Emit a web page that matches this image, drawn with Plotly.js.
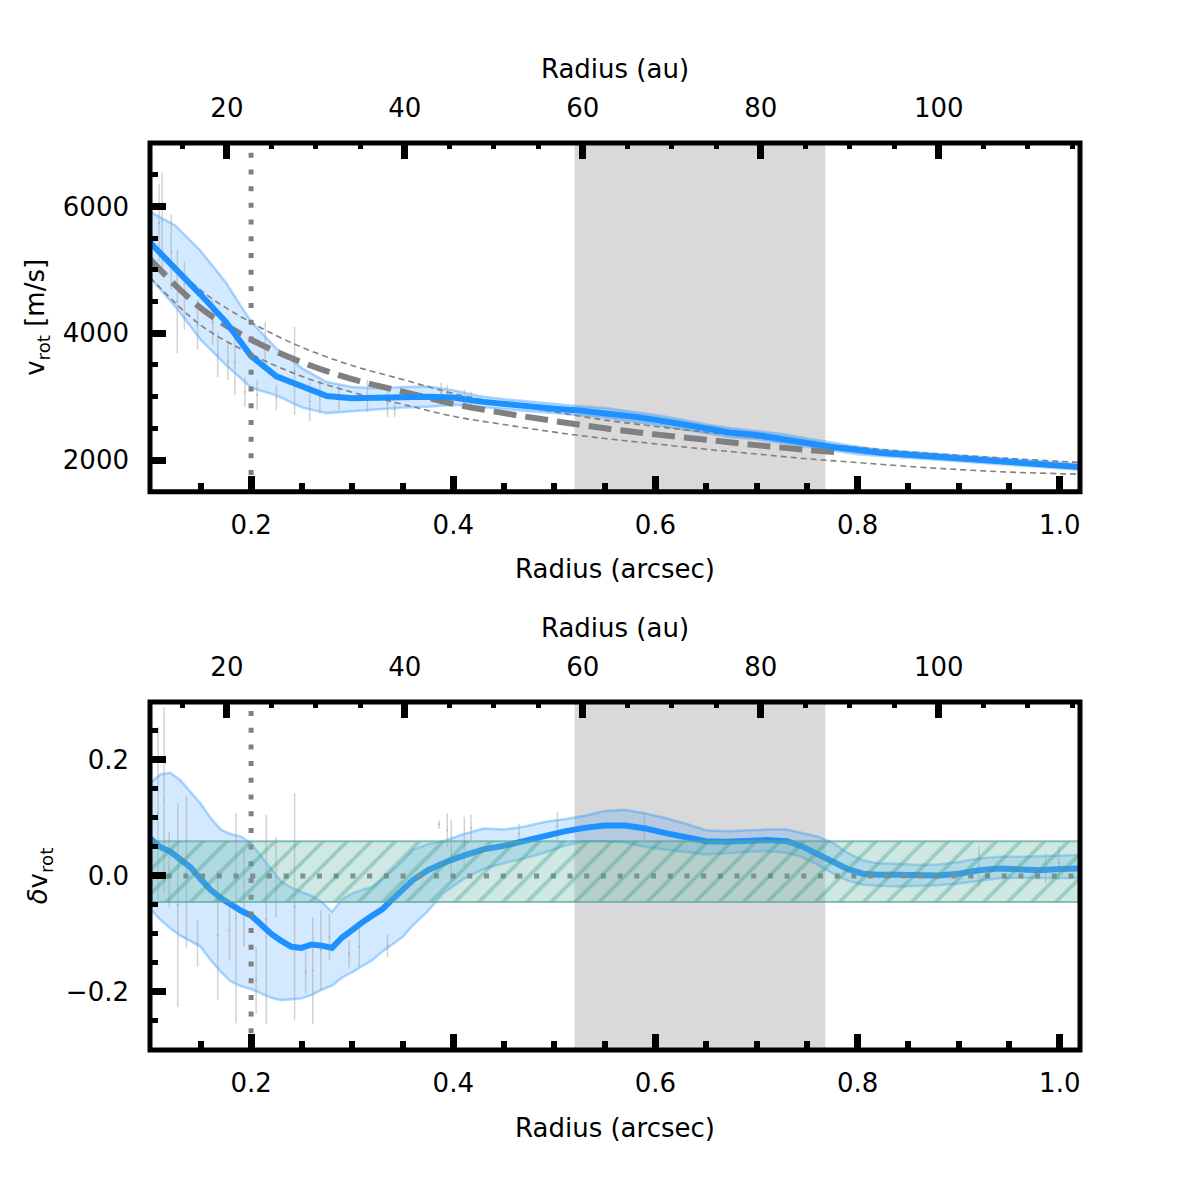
<!DOCTYPE html>
<html>
<head>
<meta charset="utf-8">
<script src="https://cdn.plot.ly/plotly-3.0.1.min.js"></script>
<style>
  html, body { margin: 0; padding: 0; background: #ffffff; }
  #chart { width: 1200px; height: 1200px; }
</style>
</head>
<body>
<div id="chart"></div>
<script>
// ---- constants -------------------------------------------------------
const DIST_PC = 113.6;               // arcsec -> au conversion
const R_RANGE = [0.1, 1.02];         // radius range (arcsec)
const V_RANGE = [1500, 7000];        // rotation velocity range (m/s)
const DV_RANGE = [-0.3, 0.3];        // relative deviation range
const INNER_RING = 0.2;              // dotted marker (arcsec)
const GAP = [0.52, 0.768];           // shaded gap (arcsec)
const DV_BAND = [-0.045, 0.06];      // hatched scatter band

// ---- rotation curve (top panel) -------------------------------------
const radius = [0.100,0.125,0.150,0.175,0.200,0.225,0.250,0.275,0.300,0.325,0.350,0.375,0.400,0.425,0.450,0.475,0.500,0.525,0.550,0.575,0.600,0.625,0.650,0.675,0.700,0.725,0.750,0.775,0.800,0.825,0.850,0.875,0.900,0.925,0.950,0.975,1.000,1.020];
const vrot   = [5430,5030,4610,4180,3640,3320,3170,3010,2975,2975,2990,3000,2985,2925,2880,2845,2810,2780,2745,2690,2635,2565,2490,2430,2395,2340,2270,2205,2150,2110,2085,2055,2025,1995,1965,1935,1910,1890];
const vrotHi = [5920,5700,5300,4800,4180,3760,3450,3230,3150,3130,3150,3160,3100,3010,2960,2920,2880,2850,2820,2770,2710,2640,2560,2500,2460,2410,2340,2270,2210,2160,2130,2100,2070,2040,2010,1980,1955,1935];
const vrotLo = [4880,4420,3900,3500,3140,3020,2830,2740,2770,2800,2830,2840,2870,2840,2800,2770,2740,2710,2670,2610,2560,2490,2420,2360,2330,2270,2200,2140,2090,2060,2040,2010,1980,1950,1920,1890,1865,1845];

// model curves
const rModel  = [0.10,0.15,0.20,0.25,0.30,0.35,0.40,0.45,0.50,0.55,0.60,0.65,0.70,0.75,0.80,0.85,0.90,0.95,1.00,1.02];
const vModelHi = [5480,4680,4170,3780,3490,3270,3050,2890,2760,2630,2530,2440,2350,2270,2200,2130,2075,2025,1980,1965];
const vModelLo = [4880,4130,3670,3320,3070,2880,2690,2560,2440,2340,2255,2170,2095,2020,1960,1900,1850,1810,1785,1775];
const rModelMid = [0.10,0.15,0.20,0.25,0.30,0.35,0.40,0.45,0.50,0.55,0.60,0.65,0.70,0.75,0.785];
const vModelMid = [5170,4400,3900,3545,3275,3080,2885,2740,2615,2500,2405,2320,2235,2160,2115];

// individual measurements
const rPts = [0.109,0.112,0.121,0.127,0.134,0.147,0.162,0.167,0.177,0.184,0.194,0.206,0.214,0.225,0.243,0.258,0.268,0.287,0.315,0.335,0.342,0.388,0.394,0.411,0.418];
const vPts = [5737,5768,5279,4504,4591,4133,4173,3659,3556,3541,3074,3027,3801,2987,3406,2924,3003,2987,3011,2893,2798,3059,3059,3003,2972];
const vErr = [608,766,592,814,537,395,356,348,292,514,237,237,379,198,695,308,261,198,253,213,119,158,119,103,103];

// ---- deviation profile (bottom panel) -------------------------------
const rDev  = [0.100,0.110,0.120,0.130,0.140,0.150,0.160,0.170,0.180,0.190,0.200,0.210,0.220,0.230,0.240,0.250,0.260,0.270,0.280,0.290,0.300,0.310,0.320,0.330,0.340,0.350,0.360,0.375,0.390,0.410,0.430,0.450,0.470,0.490,0.510,0.530,0.550,0.570,0.590,0.610,0.630,0.650,0.670,0.690,0.710,0.730,0.745,0.760,0.775,0.790,0.805,0.820,0.840,0.860,0.880,0.900,0.920,0.940,0.960,0.980,1.000,1.020];
const dv    = [0.065,0.050,0.042,0.028,0.015,-0.005,-0.024,-0.038,-0.050,-0.060,-0.068,-0.085,-0.100,-0.112,-0.122,-0.124,-0.118,-0.120,-0.124,-0.106,-0.092,-0.080,-0.068,-0.057,-0.040,-0.024,-0.007,0.010,0.022,0.035,0.046,0.052,0.060,0.070,0.077,0.083,0.087,0.087,0.082,0.074,0.066,0.060,0.059,0.061,0.062,0.060,0.051,0.038,0.024,0.012,0.004,0.002,0.002,0.002,0.001,0.004,0.010,0.013,0.012,0.010,0.012,0.013];
const dvLo  = [-0.056,-0.075,-0.090,-0.103,-0.112,-0.122,-0.145,-0.165,-0.182,-0.190,-0.195,-0.203,-0.210,-0.214,-0.213,-0.211,-0.205,-0.196,-0.189,-0.175,-0.166,-0.155,-0.145,-0.130,-0.118,-0.105,-0.085,-0.060,-0.030,-0.005,0.012,0.022,0.030,0.040,0.052,0.060,0.060,0.058,0.050,0.046,0.041,0.037,0.039,0.042,0.043,0.040,0.033,0.020,0.005,-0.008,-0.015,-0.017,-0.018,-0.017,-0.016,-0.013,-0.008,-0.004,-0.003,-0.004,-0.004,-0.003];
const dvHi  = [0.160,0.175,0.178,0.165,0.145,0.125,0.100,0.080,0.072,0.068,0.056,0.035,0.012,-0.010,-0.020,-0.028,-0.034,-0.045,-0.062,-0.040,-0.030,-0.024,-0.019,-0.005,0.010,0.025,0.045,0.055,0.060,0.072,0.082,0.080,0.085,0.093,0.098,0.104,0.112,0.114,0.108,0.100,0.090,0.079,0.077,0.079,0.080,0.080,0.074,0.068,0.058,0.040,0.027,0.022,0.021,0.019,0.020,0.024,0.030,0.033,0.033,0.034,0.036,0.036];

const rDevPts = [0.108,0.114,0.119,0.1275,0.136,0.147,0.167,0.1786,0.185,0.193,0.205,0.215,0.2248,0.243,0.254,0.261,0.269,0.2775,0.297,0.307,0.335,0.386,0.394,0.398,0.411,0.4176,0.465,0.503,0.589,0.92,0.986,0.999];
const dvPts   = [0.108,0.131,0.011,-0.050,0.007,-0.117,-0.102,-0.094,-0.073,-0.039,-0.180,-0.075,-0.002,-0.053,-0.166,-0.163,-0.128,-0.105,-0.134,-0.122,-0.120,0.089,0.079,0.045,0.059,0.083,0.073,0.086,0.086,0.016,0.013,0.022];
const dvErr   = [0.149,0.160,0.065,0.176,0.130,0.040,0.112,0.052,0.181,0.083,0.058,0.180,0.069,0.196,0.037,0.092,0.069,0.040,0.023,0.035,0.020,0.007,0.029,0.052,0.043,0.022,0.017,0.024,0.024,0.035,0.026,0.029];

// ---- styling ---------------------------------------------------------
const BLUE = '#1e90ff';
const BAND_FILL = 'rgba(30,144,255,0.2)';
const BAND_EDGE = 'rgba(30,144,255,0.35)';
const GREY = '#808080';
const DOT = '5px,11.7px';
const FONT = { family: 'DejaVu Sans', size: 26, color: '#000000' };

const au = r => r * DIST_PC;

function panelTraces(xa, ya, list) {
  return list.map(t => Object.assign({ xaxis: xa, yaxis: ya, hoverinfo: 'skip', showlegend: false }, t));
}

const velocityTraces = panelTraces('x', 'y', [
  { x: radius, y: vrotLo, mode: 'lines', line: { color: BAND_EDGE, width: 2.5 } },
  { x: radius, y: vrotHi, mode: 'lines', fill: 'tonexty', fillcolor: BAND_FILL, line: { color: BAND_EDGE, width: 2.5 } },
  { x: rPts, y: vPts, mode: 'markers', marker: { size: 2, color: 'rgba(150,150,150,0.5)' },
    error_y: { type: 'data', array: vErr, color: 'rgba(165,165,165,0.5)', thickness: 1.5, width: 0 } },
  { x: rModel, y: vModelHi, mode: 'lines', line: { color: GREY, width: 1.6, dash: '6px,4px', shape: 'spline' } },
  { x: rModel, y: vModelLo, mode: 'lines', line: { color: GREY, width: 1.6, dash: '6px,4px', shape: 'spline' } },
  { x: rModelMid, y: vModelMid, mode: 'lines', line: { color: GREY, width: 6, dash: '23px,9px', shape: 'spline' } },
  { x: radius, y: vrot, mode: 'lines', line: { color: BLUE, width: 6 } },
  { x: [INNER_RING, INNER_RING], y: V_RANGE, mode: 'lines', line: { color: GREY, width: 5, dash: DOT } },
  { x: R_RANGE.map(au), y: [null, null], xaxis: 'x2', mode: 'lines' }
]);

const deviationTraces = panelTraces('x3', 'y2', [
  { x: rDev, y: dvLo, mode: 'lines', line: { color: BAND_EDGE, width: 2.5 } },
  { x: rDev, y: dvHi, mode: 'lines', fill: 'tonexty', fillcolor: BAND_FILL, line: { color: BAND_EDGE, width: 2.5 } },
  { x: rDevPts, y: dvPts, mode: 'markers', marker: { size: 2, color: 'rgba(150,150,150,0.5)' },
    error_y: { type: 'data', array: dvErr, color: 'rgba(165,165,165,0.5)', thickness: 1.5, width: 0 } },
  { x: rDev, y: dv, mode: 'lines', line: { color: BLUE, width: 6 } },
  { x: R_RANGE, y: [0, 0], mode: 'lines', line: { color: GREY, width: 5, dash: DOT } },
  { x: [INNER_RING, INNER_RING], y: DV_RANGE, mode: 'lines', line: { color: GREY, width: 5, dash: DOT } },
  { x: [R_RANGE[0], R_RANGE[1], R_RANGE[1], R_RANGE[0], R_RANGE[0]],
    y: [DV_BAND[0], DV_BAND[0], DV_BAND[1], DV_BAND[1], DV_BAND[0]],
    mode: 'lines', fill: 'toself', fillcolor: 'rgba(110,185,170,0.33)',
    fillpattern: { shape: '/', size: 17, solidity: 0.22, bgcolor: 'rgba(110,185,170,0.33)', fgcolor: 'rgba(55,150,135,0.7)', fillmode: 'overlay' },
    line: { color: 'rgba(80,165,150,0.65)', width: 2 } },
  { x: R_RANGE.map(au), y: [null, null], xaxis: 'x4', mode: 'lines' }
]);

const tickBase = {
  ticks: 'inside', ticklen: 16, tickwidth: 7, tickcolor: '#000',
  showgrid: false, zeroline: false, showline: false,
  tickfont: FONT, fixedrange: true
};
const minorX = { ticks: 'inside', ticklen: 9, tickwidth: 6, tickcolor: '#000', showgrid: false };
const minorTop = { ticks: 'inside', ticklen: 6, tickwidth: 5, tickcolor: '#000', showgrid: false };
const minorY = { ticks: 'inside', ticklen: 8, tickwidth: 5, tickcolor: '#000', showgrid: false };

function arcsecAxis(anchor) {
  return Object.assign({}, tickBase, {
    anchor, range: R_RANGE, tick0: 0, dtick: 0.2, tickformat: '.1f', ticklabelstandoff: 15,
    minor: Object.assign({ tick0: 0, dtick: 0.05 }, minorX),
    title: { text: 'Radius (arcsec)', font: FONT, standoff: 21 }
  });
}
function auAxis(over, anchor) {
  return Object.assign({}, tickBase, {
    overlaying: over, side: 'top', anchor, range: R_RANGE.map(au), tick0: 0, dtick: 20, ticklabelstandoff: 20,
    minor: Object.assign({ tick0: 0, dtick: 5 }, minorTop),
    title: { text: 'Radius (au)', font: FONT, standoff: 6 }
  });
}

function frame(xa, ya) {
  return { type: 'rect', xref: xa + ' domain', yref: ya + ' domain', x0: 0, x1: 1, y0: 0, y1: 1,
    line: { color: '#000', width: 5 }, fillcolor: 'rgba(0,0,0,0)', layer: 'above' };
}
function gapRect(xa, ya) {
  return { type: 'rect', xref: xa, yref: ya + ' domain', x0: GAP[0], x1: GAP[1], y0: 0, y1: 1,
    line: { width: 0 }, fillcolor: '#d9d9d9', layer: 'below' };
}

const layout = {
  width: 1200, height: 1200,
  margin: { l: 150, r: 120, t: 143, b: 150 },
  paper_bgcolor: '#ffffff', plot_bgcolor: '#ffffff',
  font: FONT, showlegend: false,
  xaxis: Object.assign(arcsecAxis('y'), { domain: [0, 1] }),
  xaxis2: auAxis('x', 'y'),
  yaxis: Object.assign({}, tickBase, {
    domain: [0.6155, 1], anchor: 'x', range: V_RANGE, tick0: 0, dtick: 2000, ticklabelstandoff: 20,
    minor: Object.assign({ tick0: 0, dtick: 500 }, minorY),
    title: { text: 'v<sub>rot</sub> [m/s]', font: FONT, standoff: 10 }
  }),
  xaxis3: Object.assign(arcsecAxis('y2'), { domain: [0, 1] }),
  xaxis4: auAxis('x3', 'y2'),
  yaxis2: Object.assign({}, tickBase, {
    domain: [0, 0.3837], anchor: 'x3', range: DV_RANGE, tick0: 0, dtick: 0.2, tickformat: '.1f', ticklabelstandoff: 20,
    minor: Object.assign({ tick0: 0, dtick: 0.05 }, minorY),
    title: { text: '<i>δ</i>v<sub>rot</sub>', font: FONT, standoff: 10 }
  }),
  shapes: [gapRect('x', 'y'), gapRect('x3', 'y2'), frame('x', 'y'), frame('x3', 'y2')]
};

Plotly.newPlot('chart', velocityTraces.concat(deviationTraces), layout, { staticPlot: true, displayModeBar: false });
</script>
</body>
</html>
